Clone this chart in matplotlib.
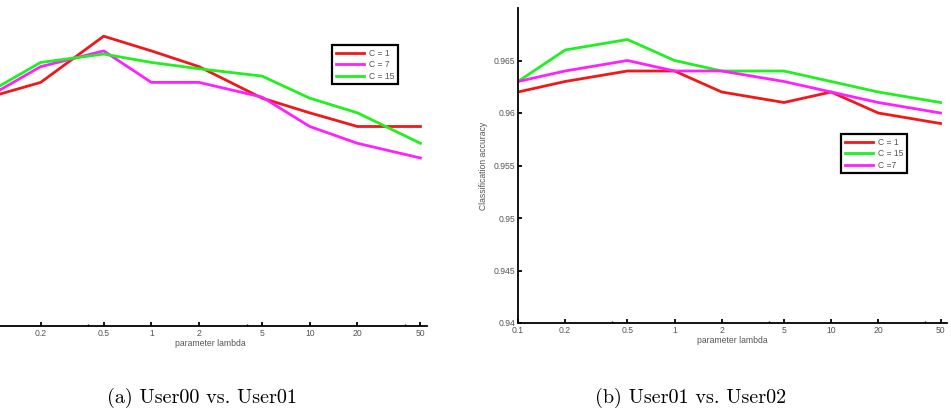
import matplotlib
matplotlib.use("Agg")
import matplotlib.pyplot as plt
from matplotlib.ticker import FixedLocator, NullFormatter

# x values (parameter lambda)
lambdas = [0.1, 0.2, 0.5, 1, 2, 5, 10, 20, 50]
tick_vals = [0.1, 0.2, 0.5, 1, 2, 5, 10, 20, 50]
tick_labels = ["0.1", "0.2", "0.5", "1", "2", "5", "10", "20", "50"]
minor_vals = [0.4, 4, 40]

# (a) User00 vs. User01
a_c1 = [0.9619, 0.9632, 0.9676, 0.9662, 0.9647, 0.9617, 0.9603, 0.9590, 0.9590]
a_c7 = [0.9621, 0.9647, 0.9662, 0.9632, 0.9632, 0.9618, 0.9590, 0.9574, 0.9560]
a_c15 = [0.9625, 0.9651, 0.9659, 0.9651, 0.9645, 0.9638, 0.9617, 0.9603, 0.9574]

# (b) User01 vs. User02
b_c1 = [0.962, 0.963, 0.964, 0.964, 0.962, 0.961, 0.962, 0.960, 0.959]
b_c15 = [0.963, 0.966, 0.967, 0.965, 0.964, 0.964, 0.963, 0.962, 0.961]
b_c7 = [0.963, 0.964, 0.965, 0.964, 0.964, 0.963, 0.962, 0.961, 0.960]
b_yticks = [0.94, 0.945, 0.95, 0.955, 0.96, 0.965]
b_ylabels = ["0.94", "0.945", "0.95", "0.955", "0.96", "0.965"]

RED = "#f01818"
MAG = "#ff20ff"
GRN = "#20f020"
GRAY = "#555555"
LW = 2.0
small = dict(family="Liberation Sans", size=6.2, color=GRAY)


def style_axes(ax, labels):
    ax.set_xscale("log")
    ax.set_xlim(0.1, 55)
    ax.set_ylim(0.94, 0.97)
    ax.spines["top"].set_visible(False)
    ax.spines["right"].set_visible(False)
    ax.spines["left"].set_linewidth(1.3)
    ax.spines["bottom"].set_linewidth(1.3)
    ax.xaxis.set_major_locator(FixedLocator(tick_vals))
    ax.set_xticklabels(labels, **small)
    ax.xaxis.set_minor_locator(FixedLocator(minor_vals))
    ax.xaxis.set_minor_formatter(NullFormatter())
    ax.tick_params(axis="both", which="major", direction="in", length=3,
                   width=1.3, pad=2)
    ax.tick_params(axis="x", which="minor", direction="in", length=1.5,
                   width=1)
    ax.set_xlabel("parameter lambda", labelpad=1, **small)


def add_legend(ax, anchor):
    leg = ax.legend(loc="upper left", bbox_to_anchor=anchor,
                    prop=dict(family="Liberation Sans", size=6.2),
                    fancybox=False, framealpha=1, edgecolor="black",
                    handlelength=3.3, handletextpad=0.6, borderpad=0.4,
                    labelspacing=0.3)
    leg.get_frame().set_linewidth(1.6)
    for t in leg.get_texts():
        t.set_color(GRAY)


fig = plt.figure(figsize=(9.51, 4.16), dpi=100)

# left panel (its y axis sits just outside the figure)
ax1 = fig.add_axes([-7 / 951, 90 / 416, 434 / 951, 315 / 416])
ax1.plot(lambdas, a_c1, color=RED, lw=LW, label="C = 1")
ax1.plot(lambdas, a_c7, color=MAG, lw=LW, label="C = 7")
ax1.plot(lambdas, a_c15, color=GRN, lw=LW, label="C = 15")
# the 0.1 label lies outside the figure in the reference
style_axes(ax1, [""] + tick_labels[1:])
ax1.set_yticks([])
add_legend(ax1, (335 / 434, 1 - 30 / 315))

# right panel
ax2 = fig.add_axes([518 / 951, 93 / 416, 429 / 951, 315 / 416])
ax2.plot(lambdas, b_c1, color=RED, lw=LW, label="C = 1")
ax2.plot(lambdas, b_c15, color=GRN, lw=LW, label="C = 15")
ax2.plot(lambdas, b_c7, color=MAG, lw=LW, label="C =7")
style_axes(ax2, tick_labels)
ax2.set_yticks(b_yticks)
ax2.set_yticklabels(b_ylabels, **small)
ax2.set_ylabel("Classification accuracy", labelpad=4, **small)
add_legend(ax2, (319 / 429, 1 - 122 / 315))

# captions
fig.text(202 / 951, 1 - 398 / 416, "(a) User00 vs. User01", family="cmr10",
         size=14.5, ha="center", va="center")
fig.text(691 / 951, 1 - 398 / 416, "(b) User01 vs. User02", family="cmr10",
         size=14.5, ha="center", va="center")

fig.savefig("out.png", dpi=100)
